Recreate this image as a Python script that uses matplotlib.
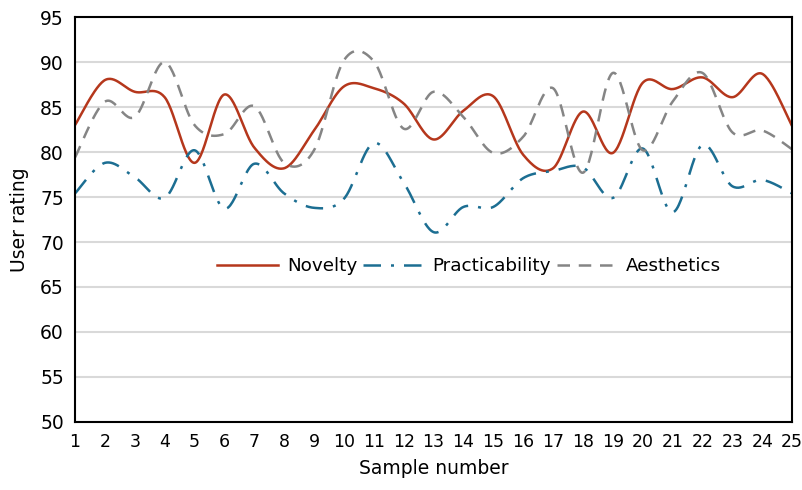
import numpy as np
import matplotlib.pyplot as plt

samples = list(range(1, 26))
novelty = [83.0, 88.0, 86.7, 86.1, 78.8, 86.4, 80.5, 78.2, 82.4, 87.3, 87.1, 85.4, 81.4,
           84.6, 86.2, 79.7, 78.2, 84.5, 79.9, 87.7, 87.0, 88.3, 86.1, 88.7, 82.9]
practicability = [75.4, 78.8, 77.2, 74.9, 80.2, 73.7, 78.7, 75.4, 73.8, 74.8, 81.0, 76.6, 71.1,
                  73.9, 73.9, 77.1, 77.9, 78.3, 74.9, 80.4, 73.3, 80.8, 76.2, 76.9, 75.4]
aesthetics = [79.4, 85.6, 83.9, 90.0, 83.0, 82.0, 85.1, 78.8, 80.2, 90.2, 90.1, 82.6, 86.7,
              83.9, 79.9, 81.7, 87.1, 77.7, 88.8, 80.2, 85.6, 88.8, 82.2, 82.4, 80.3]


def smooth(x, y, n=30):
    """ excel style smoothed line (bezier through the points) """
    x = np.asarray(x, float)
    y = np.asarray(y, float)
    px = np.concatenate([[x[0]], x, [x[-1]]])
    py = np.concatenate([[y[0]], y, [y[-1]]])
    t = np.linspace(0, 1, n)[:, None]
    xs, ys = [], []
    for i in range(len(x) - 1):
        p0 = np.array([px[i + 1], py[i + 1]])
        p3 = np.array([px[i + 2], py[i + 2]])
        p1 = p0 + (p3 - np.array([px[i], py[i]])) / 6
        p2 = p3 - (np.array([px[i + 3], py[i + 3]]) - p0) / 6
        pts = ((1 - t) ** 3) * p0 + 3 * ((1 - t) ** 2) * t * p1 + 3 * (1 - t) * t ** 2 * p2 + t ** 3 * p3
        xs.extend(pts[:, 0])
        ys.extend(pts[:, 1])
    return xs, ys


plt.rcParams['font.family'] = ['DejaVu Sans']
fig = plt.figure(figsize=(8.03, 4.9), dpi=100)
ax = fig.add_axes([0.0934, 0.139, 0.893, 0.826])

ax.plot(*smooth(samples, novelty), color='#B5371C', lw=1.8, label='Novelty')
ax.plot(*smooth(samples, practicability), color='#1C6E92', lw=1.8,
        dashes=(7, 4, 1.2, 4), label='Practicability')
ax.plot(*smooth(samples, aesthetics), color='#858585', lw=1.8,
        dashes=(5, 3.5), label='Aesthetics')

ax.set_xlim(1, 25)
ax.set_ylim(50, 95)
ax.set_xticks(samples)
ax.set_yticks(range(50, 96, 5))
ax.tick_params(axis='y', length=0, labelsize=13.5, pad=8)
ax.tick_params(axis='x', length=0, labelsize=12.5, pad=8)
ax.yaxis.grid(True, color='#D9D9D9', lw=1.5)
ax.set_axisbelow(True)
for s in ax.spines.values():
    s.set_color('black')
    s.set_linewidth(1.5)

ax.set_xlabel('Sample number', fontsize=13.5, labelpad=6)
ax.set_ylabel('User rating', fontsize=13.5, labelpad=8)
ax.legend(loc='center', bbox_to_anchor=(0.55, 0.385), ncol=3, frameon=False,
          fontsize=13.2, handlelength=3.3, handletextpad=0.5, columnspacing=0.3)

plt.savefig('out.png', dpi=100)
